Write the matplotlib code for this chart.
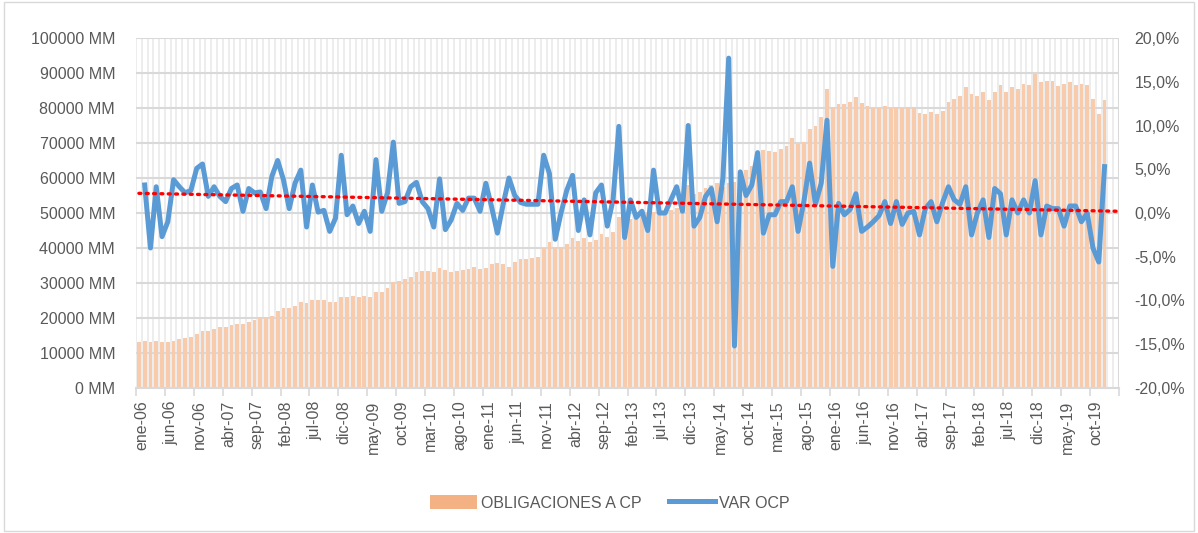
import numpy as np
import matplotlib
matplotlib.use("Agg")
import matplotlib.pyplot as plt
from matplotlib.patches import Patch, Rectangle
from matplotlib.lines import Line2D
from matplotlib.ticker import FuncFormatter

# ---- data -------------------------------------------------------------
tick_labels = ["ene-06", "jun-06", "nov-06", "abr-07", "sep-07", "feb-08", "jul-08",
               "dic-08", "may-09", "oct-09", "mar-10", "ago-10", "ene-11", "jun-11",
               "nov-11", "abr-12", "sep-12", "feb-13", "jul-13", "dic-13", "may-14",
               "oct-14", "mar-15", "ago-15", "ene-16", "jun-16", "nov-16", "abr-17",
               "sep-17", "feb-18", "jul-18", "dic-18", "may-19", "oct-19"]
n_categories = 170  # ene-06 .. feb-20 (last two empty)

# OBLIGACIONES A CP (thousands of MM), ene-06 .. dic-19
obligaciones_k = [
    13.2, 13.5, 13.2, 13.5, 13.2, 13.2, 13.5, 13.9, 14.2, 14.7, 15.3, 16.3,
    16.3, 17.0, 17.3, 17.3, 18.0, 18.3, 18.3, 19.0, 19.4, 20.2, 20.2, 20.7,
    22.0, 22.8, 22.8, 23.4, 24.7, 24.4, 25.1, 25.1, 25.1, 24.7, 24.7, 25.9,
    25.9, 26.3, 25.9, 26.3, 25.9, 27.3, 27.3, 28.5, 30.4, 30.7, 31.1, 31.8,
    33.2, 33.4, 33.4, 33.1, 34.4, 33.7, 33.05, 33.4, 33.7, 34.0, 34.7, 34.0,
    34.4, 35.3, 35.8, 35.3, 34.7, 36.1, 36.8, 36.8, 37.05, 37.3, 39.9, 41.8,
    40.4, 40.4, 41.1, 42.8, 42.1, 42.8, 41.8, 42.3, 43.9, 43.2, 44.5, 48.95,
    48.0, 48.2, 48.5, 49.0, 50.0, 50.4, 49.5, 50.0, 51.0, 51.5, 53.0, 58.0,
    55.5, 56.1, 57.1, 58.0, 58.5, 57.5, 58.5, 59.0, 61.8,
    62.3, 63.5, 65.0, 68.0, 67.8, 67.5, 68.2, 69.1, 71.3, 69.7,
    70.2, 73.9, 74.9, 77.3, 85.3, 80.2, 81.1, 81.1, 81.6, 83.2,
    81.5, 80.6, 79.9, 79.9, 80.6, 79.9, 80.4, 79.9, 80.2, 80.2,
    78.5, 78.2, 78.8, 78.2, 79.2, 81.6, 82.6, 83.5, 85.9, 84.0,
    83.5, 84.7, 82.3, 84.7, 86.6, 84.5, 85.9, 85.4, 87.0, 86.6,
    89.7, 87.3, 87.8, 87.8, 86.3, 87.0, 87.4, 86.6, 86.9, 86.6,
    82.6, 78.2, 82.3]

# VAR OCP (%), feb-06 .. dic-19
var_ocp = [
    3.2, -4.0, 3.0, -2.7, -1.0, 3.8, 3.0, 2.3, 2.6, 5.1,
    5.6, 1.9, 3.0, 1.9, 1.3, 2.8, 3.2, 0.2, 2.8, 2.3,
    2.4, 0.5, 4.2, 6.0, 3.8, 0.5, 3.4, 4.9, -1.6, 3.2,
    0.1, 0.3, -2.1, -0.6, 6.6, -0.2, 0.8, -1.2, 0.2, -2.1,
    6.1, 0.2, 2.3, 8.1, 1.1, 1.3, 3.0, 3.5, 1.3, 0.5,
    -1.6, 3.9, -1.9, -0.8, 1.1, 0.3, 1.7, 1.7, 0.2, 3.4,
    0.7, -2.3, 1.0, 4.0, 2.0, 1.2, 1.0, 1.0, 1.0, 6.6,
    4.5, -3.0, 0.0, 2.6, 4.3, -2.0, 1.5, -2.5, 2.3, 3.2,
    -1.5, 1.5, 9.9, -2.8, 1.5, -0.5, 0.2, -2.0, 4.9, 0.0,
    0.0, 1.5, 3.0, 0.2, 10.0, -1.5, -0.5, 1.9, 2.8, -1.0,
    4.0, 17.7, -15.2, 4.7, 2.0, 3.2, 6.9, -2.3, -0.2, -0.2,
    1.3, 1.3, 3.0, -2.1, 1.3, 5.7, 1.0, 3.4, 10.6, -6.1,
    1.1, -0.2, 0.4, 2.2, -2.1, -1.6, -1.0, -0.3, 1.3, -1.2,
    1.3, -1.3, 0.0, 0.2, -2.5, 0.5, 1.3, -1.0, 1.2, 3.0,
    1.5, 1.0, 3.0, -2.5, 0.0, 1.5, -2.8, 2.8, 2.2, -2.5,
    1.5, 0.0, 1.5, 0.0, 3.7, -2.5, 0.8, 0.5, 0.5, -1.5,
    0.8, 0.8, -1.0, 0.0, -4.0, -5.6, 5.3]

# ---- figure -------------------------------------------------------------
W, H = 1198, 533
fig = plt.figure(figsize=(W / 100, H / 100), dpi=100)
plt.rcParams["font.family"] = ["Liberation Sans", "DejaVu Sans"]

L, R, T, B = 136, 1119, 38, 388
ax = fig.add_axes([L / W, 1 - B / H, (R - L) / W, (B - T) / H])
ax2 = ax.twinx()

txt_col = "#595959"
grid_col = "#d9d9d9"

bar_vals = np.array(obligaciones_k) * 1000
bx = np.arange(len(bar_vals))
ax.bar(bx, bar_vals, width=0.66, color="#F8CBAD", zorder=2)

# category gridlines
for b in np.arange(-0.5, n_categories, 1.0):
    ax.axvline(b, color="#ececec", lw=1.3, zorder=0)
for v in range(0, 100001, 10000):
    ax.axhline(v, color=grid_col, lw=1.5, zorder=1)

ax.set_xlim(-0.5, n_categories - 0.5)
ax.set_ylim(0, 100000)
ax.set_yticks(range(0, 100001, 10000))
ax.yaxis.set_major_formatter(FuncFormatter(lambda v, p: f"{int(round(v))} MM"))
ax.set_xticks(np.arange(0, len(tick_labels)) * 5 + 0.5)
ax.set_xticklabels(tick_labels, rotation=90, ha="center", va="top")
ax.set_xticks(np.arange(0, 35) * 5 - 0.5, minor=True)
ax.tick_params(axis="x", which="major", length=0, pad=9, labelsize=11.5, colors=txt_col)
ax.tick_params(axis="x", which="minor", length=6, width=1.2, color=grid_col)
ax.tick_params(axis="y", length=0, pad=15, labelsize=11.5, colors=txt_col)

for s in ["top", "left", "right"]:
    ax.spines[s].set_visible(False)
    ax2.spines[s].set_visible(False)
ax.spines["bottom"].set_color(grid_col)
ax.spines["bottom"].set_linewidth(1.5)
ax2.spines["bottom"].set_visible(False)
ax.axvline(n_categories - 0.5, color=grid_col, lw=1.5, zorder=1)

# line
lx = np.arange(1, 1 + len(var_ocp))
ly = np.array(var_ocp) / 100.0
ax2.plot(lx, ly, color="#5B9BD5", lw=3.6, solid_joinstyle="round", zorder=4)
coef = np.polyfit(lx, ly, 1)
tx = np.array([0, n_categories - 1])
ax2.plot(tx, np.polyval(coef, tx), color="#FF0000", lw=2.4,
         linestyle=(0, (0.6, 1.6)), dash_capstyle="round", zorder=5)
ax2.set_ylim(-0.20, 0.20)
ax2.set_yticks(np.arange(-4, 5) * 0.05)


def pct_fmt(v, p):
    s = f"{abs(v) * 100:.1f}%".replace(".", ",")
    return ("-" + s) if round(v * 1000) < 0 else s


ax2.yaxis.set_major_formatter(FuncFormatter(pct_fmt))
ax2.tick_params(axis="y", length=0, pad=11, labelsize=11.5, colors=txt_col)
ax.set_zorder(ax2.get_zorder() - 1)
ax.patch.set_visible(False)
ax2.patch.set_visible(False)

# legend
handles = [Patch(facecolor="#F4B183", edgecolor="none"),
           Line2D([0], [0], color="#5B9BD5", lw=3.6)]
fig.legend(handles, ["OBLIGACIONES A CP", "VAR OCP"], loc="center",
           bbox_to_anchor=(0.5 + 11 / W, 1 - 503 / H), ncol=2, frameon=False,
           fontsize=11.5, labelcolor=txt_col, handlelength=2.9, handleheight=0.9,
           columnspacing=1.7, handletextpad=0.25)

fig.patches.append(Rectangle((0.003, 0.003), 0.994, 0.994, transform=fig.transFigure,
                             fill=False, edgecolor="#d9d9d9", lw=1))
fig.savefig("out.png", dpi=100)
